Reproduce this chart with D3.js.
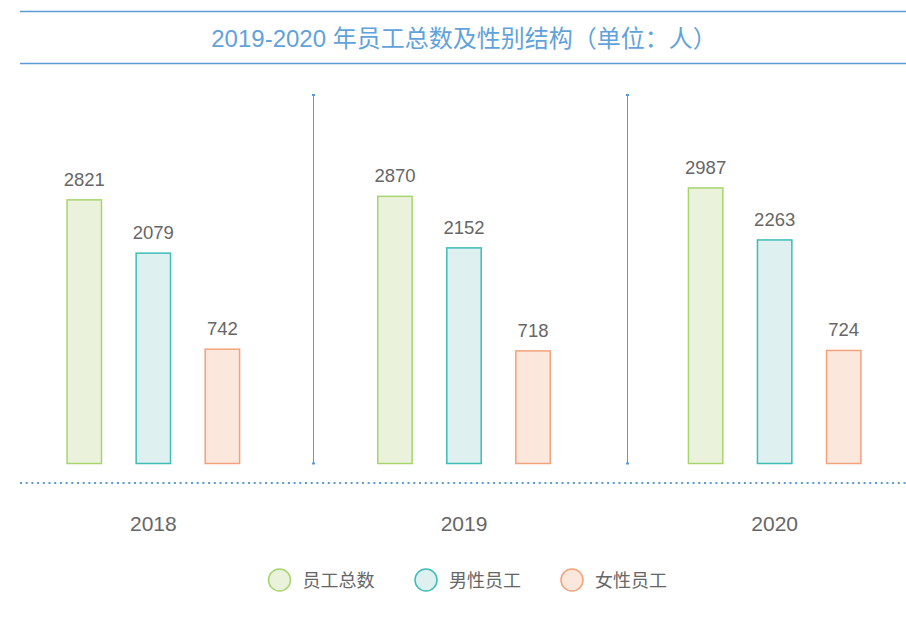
<!DOCTYPE html>
<html>
<head>
<meta charset="utf-8">
<script src="https://cdn.jsdelivr.net/npm/d3@7"></script>
<style>
  body { margin: 0; background: #fff; }
  svg text { font-family: "Liberation Sans", "Noto Sans CJK SC", Arial, sans-serif; }
</style>
</head>
<body>
<div id="chart"></div>
<script>
// data
var years = ["2018", "2019", "2020"];
var seriesNames = ["员工总数", "男性员工", "女性员工"];
var totalStaff = [2821, 2870, 2987];
var maleStaff = [2079, 2152, 2263];
var femaleStaff = [742, 718, 724];
var titleText = "2019-2020 年员工总数及性别结构（单位：人）";

var strokeColors = ["#a8d46f", "#3cbdb6", "#f2a27c"];
var fillColors = ["#eaf2dc", "#def0ef", "#fce7dc"];

var width = 906, height = 626;
var svg = d3.select("#chart").append("svg")
  .attr("width", width)
  .attr("height", height);

var rows = years.map(function (y, i) {
  return { year: y, values: [totalStaff[i], maleStaff[i], femaleStaff[i]] };
});

// title + rules
svg.append("line").attr("x1", 20).attr("x2", width).attr("y1", 11.5).attr("y2", 11.5)
  .attr("stroke", "#5b9bd5").attr("stroke-width", 1.3);
svg.append("line").attr("x1", 20).attr("x2", width).attr("y1", 63.5).attr("y2", 63.5)
  .attr("stroke", "#5b9bd5").attr("stroke-width", 1.3);
svg.append("text")
  .attr("x", 464).attr("y", 47)
  .attr("text-anchor", "middle")
  .style("font-size", "24px")
  .style("fill", "#62a2da")
  .text(titleText);

// scales
var baseY = 463.5;
var x0 = d3.scaleBand().domain(years).range([-2, 930]);
var x1 = d3.scaleBand().domain(d3.range(3)).range([-87, 87]).paddingInner(0.48).paddingOuter(0);
var y = d3.scaleLinear().domain([-850, 3000]).range([baseY, 187]);

// separators
var sepX = [313.5, 627.5];
svg.selectAll(".sep").data(sepX).enter().append("line")
  .attr("class", "sep")
  .attr("x1", function (d) { return d; })
  .attr("x2", function (d) { return d; })
  .attr("y1", 95).attr("y2", baseY)
  .attr("stroke", "#5b9bd5").attr("stroke-width", 1);
svg.selectAll(".sepcap").data([95, baseY].flatMap(function (yy) { return sepX.map(function (sx) { return [sx, yy]; }); }))
  .enter().append("rect")
  .attr("x", function (d) { return d[0] - 1.5; })
  .attr("y", function (d) { return d[1] - 1; })
  .attr("width", 3).attr("height", 2)
  .attr("fill", "#5b9bd5");

// dotted baseline
svg.append("line").attr("x1", 20).attr("x2", width).attr("y1", 483).attr("y2", 483)
  .attr("stroke", "#5b9bd5").attr("stroke-width", 2.2)
  .attr("stroke-dasharray", "2,3.7");

// bars
var groups = svg.selectAll(".grp").data(rows).enter().append("g")
  .attr("class", "grp")
  .attr("transform", function (d) { return "translate(" + (x0(d.year) + x0.bandwidth() / 2) + ",0)"; });

groups.selectAll("rect").data(function (d) { return d.values; }).enter().append("rect")
  .attr("x", function (d, i) { return x1(i) + 0.75; })
  .attr("y", function (d) { return y(d); })
  .attr("width", x1.bandwidth() - 1.5)
  .attr("height", function (d) { return baseY - y(d); })
  .attr("fill", function (d, i) { return fillColors[i]; })
  .attr("stroke", function (d, i) { return strokeColors[i]; })
  .attr("stroke-width", 1.5);

groups.selectAll(".val").data(function (d) { return d.values; }).enter().append("text")
  .attr("class", "val")
  .attr("x", function (d, i) { return x1(i) + x1.bandwidth() / 2; })
  .attr("y", function (d) { return y(d) - 14; })
  .attr("text-anchor", "middle")
  .style("font-size", "18.5px")
  .style("fill", "#666666")
  .text(function (d) { return d; });

// year labels
groups.append("text")
  .attr("x", 0).attr("y", 531)
  .attr("text-anchor", "middle")
  .style("font-size", "21px")
  .style("fill", "#666666")
  .text(function (d) { return d.year; });

// legend
var legendX = [279.5, 426, 572];
var legend = svg.selectAll(".leg").data(seriesNames).enter().append("g")
  .attr("class", "leg")
  .attr("transform", function (d, i) { return "translate(" + legendX[i] + ",580)"; });
legend.append("circle")
  .attr("r", 11)
  .attr("fill", function (d, i) { return fillColors[i]; })
  .attr("stroke", function (d, i) { return strokeColors[i]; })
  .attr("stroke-width", 1.5);
legend.append("text")
  .attr("x", 23).attr("y", 7)
  .style("font-size", "18px")
  .style("font-family", "'Noto Sans CJK SC', sans-serif")
  .style("fill", "#666666")
  .text(function (d) { return d; });
</script>
</body>
</html>
